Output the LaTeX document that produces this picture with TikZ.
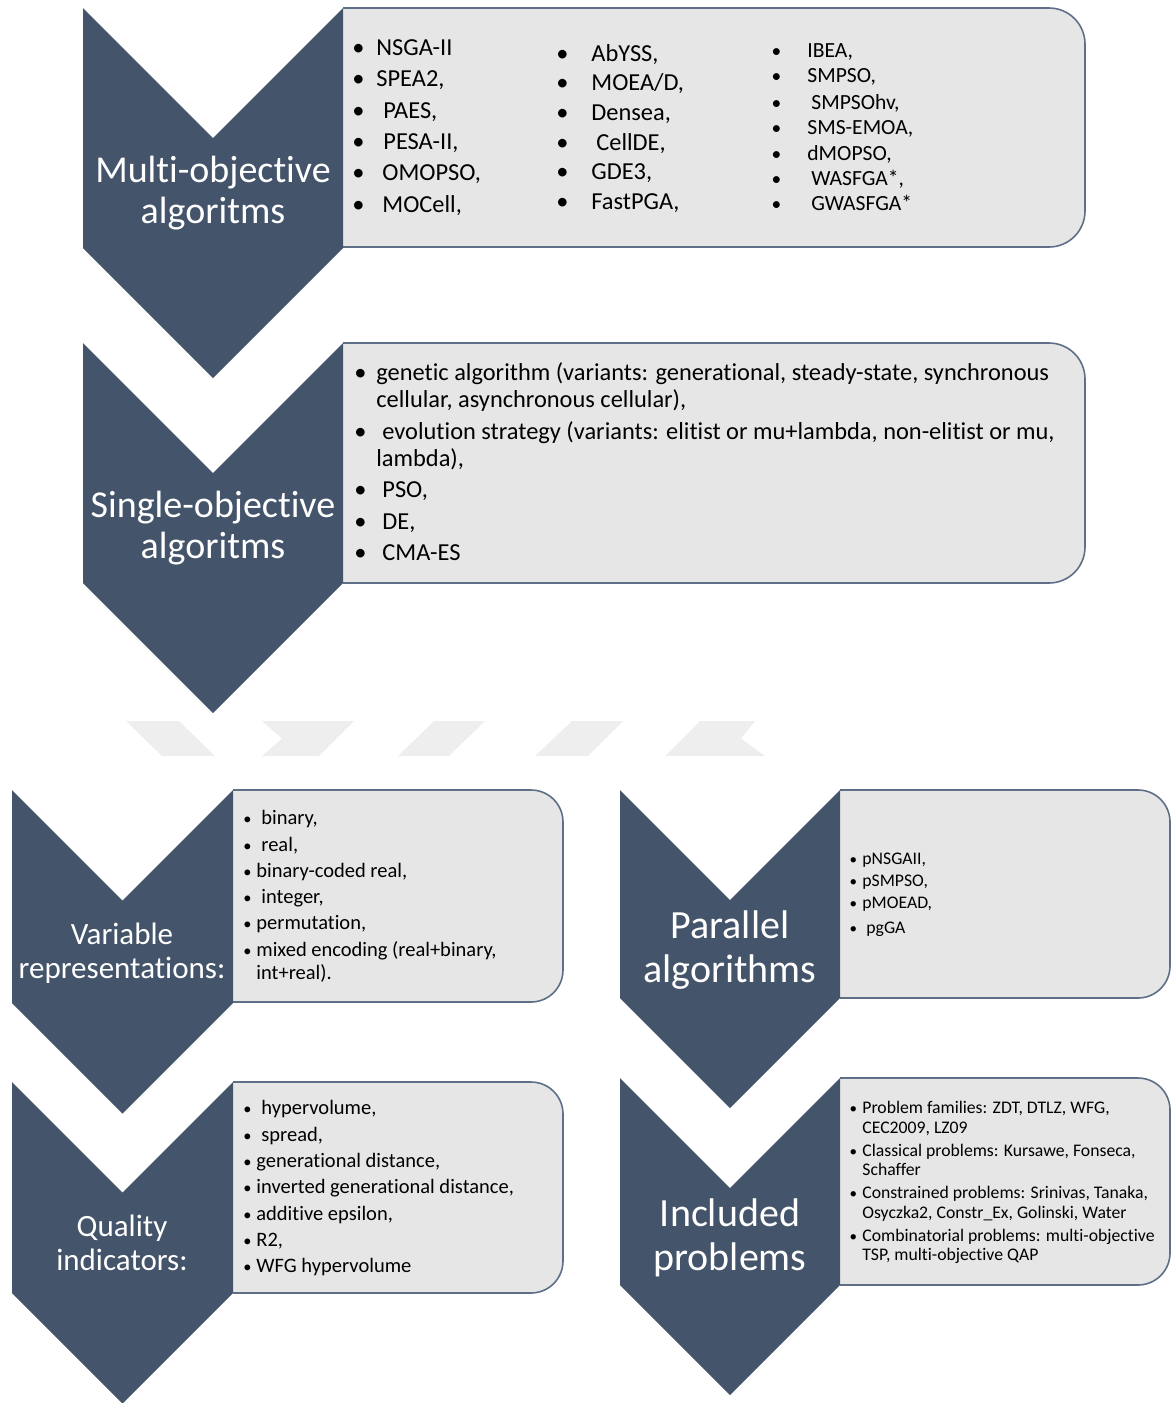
\documentclass[tikz,border=0pt]{standalone}
\usepackage{graphicx}
\usepackage{fontspec}
\setmainfont{Carlito}[Ligatures={NoCommon,NoContextual}]

\definecolor{chevfill}{HTML}{44546A}
\definecolor{boxfill}{HTML}{E7E6E6}
\definecolor{boxline}{HTML}{5E6F87}
\definecolor{wmark}{HTML}{EEEEEE}

% bullet hanging to the left of the item text:
% optional #1 = bullet scale, #2 = distance from bullet centre to text start
\newcommand\bl[2][1]{\makebox[0pt][r]{\makebox[0pt][c]{\scalebox{#1}{\textbullet}}\hspace{#2}}}

% chevron: left x, right x, top y, y of the lower side corners
\newcommand\chevronpath[4]{%
  \fill[chev] (#1,#3) -- ({(#1+#2)/2},{#3+(#2-#1)/2}) -- (#2,#3) -- (#2,#4)
    -- ({(#1+#2)/2},{#4+(#2-#1)/2}) -- (#1,#4) -- cycle;}

% list panel with rounded right corners: left, right, top, bottom, radius
\newcommand\panelpath[5]{%
  \fill[boxfill] (#1,#3) -- ({#2-#5},#3) arc[start angle=-90,end angle=0,radius=#5]
    -- (#2,{#4-#5}) arc[start angle=0,end angle=90,radius=#5] -- (#1,#4) -- cycle;
  \draw[panelline] (#1,#3) -- ({#2-#5},#3) arc[start angle=-90,end angle=0,radius=#5]
    -- (#2,{#4-#5}) arc[start angle=0,end angle=90,radius=#5] -- (#1,#4);}

\tikzset{
  chev/.style={fill=chevfill},
  panelline/.style={draw=boxline, line width=0.8pt},
  head/.style={text=white, align=center, inner sep=0pt},
  itm/.style={anchor=base west, inner sep=0pt, text=black},
  bigA/.style={itm, font=\fontsize{12.2}{14}\selectfont},
  smallA/.style={itm, font=\fontsize{10.8}{13}\selectfont},
  midB/.style={itm, font=\fontsize{10.25}{12}\selectfont},
  tinyC/.style={itm, font=\fontsize{8.85}{10}\selectfont},
}

\begin{document}
\begin{tikzpicture}[x=0.5pt,y=-0.5pt]
\useasboundingbox (0,0) rectangle (1175,1403);

% faint separator band
\fill[wmark] (126,721) -- (179,721) -- (215,756) -- (162,756) -- cycle;
\fill[wmark] (262,721) -- (354,721) -- (319,756) -- (262,756) -- (282,738.5) -- cycle;
\fill[wmark] (434,721) -- (485,721) -- (449,756) -- (398,756) -- cycle;
\fill[wmark] (572,721) -- (623,721) -- (588,756) -- (535,756) -- cycle;
\fill[wmark] (700,721) -- (755,721) -- (741,738.5) -- (765,756) -- (665,756) -- cycle;

% panels
\panelpath{343}{1085}{8}{247}{36}
\panelpath{343}{1085}{343}{583}{36}
\panelpath{233}{563}{790}{1002}{32}
\panelpath{233}{563}{1082}{1293}{32}
\panelpath{840}{1170}{790}{998}{32}
\panelpath{840}{1170}{1078}{1285}{32}

% chevrons
\chevronpath{83}{343}{8}{248}
\chevronpath{83}{343}{343}{583}
\chevronpath{12}{233}{790}{1003}
\chevronpath{12}{233}{1082}{1293}
\chevronpath{620}{840}{790}{998}
\chevronpath{620}{840}{1078}{1285}

% chevron titles
\node[head, font=\fontsize{19}{20.5}\selectfont] (hMulti) at (213,193) {Multi-objective\\algoritms};
\node[head, font=\fontsize{19}{20.5}\selectfont] (hSingle) at (213,528) {Single-objective\\algoritms};
\node[head, font=\fontsize{15.5}{17}\selectfont] (hVar) at (122,953) {Variable\\representations:};
\node[head, font=\fontsize{15.5}{17}\selectfont] (hQual) at (122,1243) {Quality\\indicators:};
\node[head, font=\fontsize{20}{22}\selectfont] (hPar) at (730,950) {Parallel\\algorithms};
\node[head, font=\fontsize{20}{22}\selectfont] (hInc) at (730,1238) {Included\\problems};

% multi-objective algorithms, three columns
\foreach \n/\x/\y/\t in {1/376/55/{\bl{9pt}NSGA-II}, 2/376/86/{\bl{9pt}SPEA2,},
    3/383/118/{\bl{12.5pt}PAES,}, 4/383/149/{\bl{12.5pt}PESA-II,},
    5/382/180/{\bl{12pt}OMOPSO,}, 6/382/212/{\bl{12pt}MOCell,}}
  \node[bigA] (mA\n) at (\x,\y) {\t};
\foreach \n/\x/\y/\t in {1/591/61/{\bl{14.5pt}AbYSS,}, 2/591/90/{\bl{14.5pt}MOEA/D,},
    3/591/120/{\bl{14.5pt}Densea,}, 4/596/150/{\bl{17pt}CellDE,},
    5/591/179/{\bl{14.5pt}GDE3,}, 6/591/209/{\bl{14.5pt}FastPGA,}}
  \node[bigA] (mB\n) at (\x,\y) {\t};
\foreach \n/\x/\y/\t in {1/807/57/{\bl[0.9]{15.5pt}IBEA,}, 2/807/82/{\bl[0.9]{15.5pt}SMPSO,},
    3/811/109/{\bl[0.9]{17.5pt}SMPSOhv,}, 4/807/134/{\bl[0.9]{15.5pt}SMS-EMOA,},
    5/807/160/{\bl[0.9]{15.5pt}dMOPSO,}, 6/811/185/{\bl[0.9]{17.5pt}WASFGA*,},
    7/811/210/{\bl[0.9]{17.5pt}GWASFGA*}}
  \node[smallA] (mC\n) at (\x,\y) {\t};

% single-objective algorithms
\foreach \n/\x/\y/\t in {
    1/376/380/{\bl{8pt}genetic algorithm (variants: generational, steady-state, synchronous},
    2/376/407/{cellular, asynchronous cellular),},
    3/382/439/{\bl{11pt}evolution strategy (variants: elitist or mu+lambda, non-elitist or mu,},
    4/376/466/{lambda),},
    5/382/497/{\bl{11pt}PSO,},
    6/382/529/{\bl{11pt}DE,},
    7/382/560/{\bl{11pt}CMA-ES}}
  \node[bigA] (s\n) at (\x,\y) {\t};

% variable representations
\foreach \n/\x/\y/\t in {1/261/824/{\bl[0.8]{7pt}binary,}, 2/261/851/{\bl[0.8]{7pt}real,},
    3/256/877/{\bl[0.8]{4.5pt}binary-coded real,}, 4/261/903/{\bl[0.8]{7pt}integer,},
    5/256/929/{\bl[0.8]{4.5pt}permutation,}, 6/256/956/{\bl[0.8]{4.5pt}mixed encoding (real+binary,},
    7/256/979/{int+real).}}
  \node[midB] (v\n) at (\x,\y) {\t};

% quality indicators
\foreach \n/\x/\y/\t in {1/261/1114/{\bl[0.8]{7pt}hypervolume,}, 2/261/1141/{\bl[0.8]{7pt}spread,},
    3/256/1167/{\bl[0.8]{4.5pt}generational distance,}, 4/256/1193/{\bl[0.8]{4.5pt}inverted generational distance,},
    5/256/1220/{\bl[0.8]{4.5pt}additive epsilon,}, 6/256/1246/{\bl[0.8]{4.5pt}R2,},
    7/256/1272/{\bl[0.8]{4.5pt}WFG hypervolume}}
  \node[midB] (q\n) at (\x,\y) {\t};

% parallel algorithms
\foreach \n/\x/\y/\t in {1/862/864/{\bl[0.85]{4.5pt}pNSGAII,}, 2/862/886/{\bl[0.85]{4.5pt}pSMPSO,},
    3/862/908/{\bl[0.85]{4.5pt}pMOEAD,}, 4/866/933/{\bl[0.85]{6.5pt}pgGA}}
  \node[tinyC] (p\n) at (\x,\y) {\t};

% included problems
\foreach \n/\x/\y/\t in {
    1/862/1113/{\bl[0.85]{4.5pt}Problem families: ZDT, DTLZ, WFG,},
    2/862/1133/{CEC2009, LZ09},
    3/862/1156/{\bl[0.85]{4.5pt}Classical problems: Kursawe, Fonseca,},
    4/862/1175/{Schaffer},
    5/862/1198/{\bl[0.85]{4.5pt}Constrained problems: Srinivas, Tanaka,},
    6/862/1218/{Osyczka2, Constr\_Ex, Golinski, Water},
    7/862/1241/{\bl[0.85]{4.5pt}Combinatorial problems: multi-objective},
    8/862/1260/{TSP, multi-objective QAP}}
  \node[tinyC] (i\n) at (\x,\y) {\t};
\end{tikzpicture}
\end{document}
